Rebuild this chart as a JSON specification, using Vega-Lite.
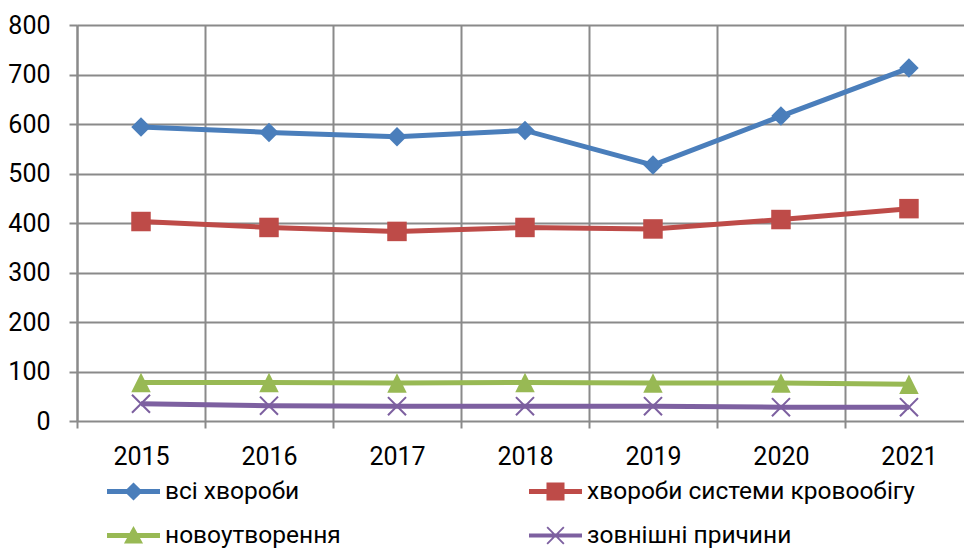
{
  "$schema": "https://vega.github.io/schema/vega-lite/v6.json",
  "autosize": {"type": "none"},
  "padding": {"left": 77, "top": 25, "right": 0, "bottom": 127},
  "width": 887,
  "height": 396,
  "background": "white",
  "config": {
    "font": "Roboto",
    "view": {"stroke": null},
    "axis": {"labelFont": "Roboto", "labelColor": "#000000", "labelFontSize": 25, "gridColor": "#8a8a8a", "gridWidth": 2, "tickColor": "#8a8a8a", "tickWidth": 2, "domainColor": "#8a8a8a", "domainWidth": 2}
  },
  "data": {
    "values": [
      {"year": 2015, "series": "всі хвороби", "value": 594},
      {"year": 2016, "series": "всі хвороби", "value": 583},
      {"year": 2017, "series": "всі хвороби", "value": 574},
      {"year": 2018, "series": "всі хвороби", "value": 587},
      {"year": 2019, "series": "всі хвороби", "value": 517},
      {"year": 2020, "series": "всі хвороби", "value": 616},
      {"year": 2021, "series": "всі хвороби", "value": 713},
      {"year": 2015, "series": "хвороби системи кровообігу", "value": 403},
      {"year": 2016, "series": "хвороби системи кровообігу", "value": 391},
      {"year": 2017, "series": "хвороби системи кровообігу", "value": 383},
      {"year": 2018, "series": "хвороби системи кровообігу", "value": 391},
      {"year": 2019, "series": "хвороби системи кровообігу", "value": 388},
      {"year": 2020, "series": "хвороби системи кровообігу", "value": 407},
      {"year": 2021, "series": "хвороби системи кровообігу", "value": 429},
      {"year": 2015, "series": "новоутворення", "value": 78},
      {"year": 2016, "series": "новоутворення", "value": 78},
      {"year": 2017, "series": "новоутворення", "value": 77},
      {"year": 2018, "series": "новоутворення", "value": 78},
      {"year": 2019, "series": "новоутворення", "value": 77},
      {"year": 2020, "series": "новоутворення", "value": 77},
      {"year": 2021, "series": "новоутворення", "value": 74},
      {"year": 2015, "series": "зовнішні причини", "value": 35},
      {"year": 2016, "series": "зовнішні причини", "value": 31},
      {"year": 2017, "series": "зовнішні причини", "value": 30},
      {"year": 2018, "series": "зовнішні причини", "value": 30},
      {"year": 2019, "series": "зовнішні причини", "value": 30},
      {"year": 2020, "series": "зовнішні причини", "value": 28},
      {"year": 2021, "series": "зовнішні причини", "value": 28}
    ]
  },
  "layer": [
    {
      "mark": {"type": "rule", "color": "#8a8a8a", "strokeWidth": 2},
      "encoding": {
        "x": {"field": "year", "type": "quantitative",
          "scale": {"domain": [2014.5, 2021.43], "nice": false, "zero": false},
          "axis": {"orient": "bottom", "values": [2014.5, 2015.5, 2016.5, 2017.5, 2018.5, 2019.5, 2020.5], "labels": false, "ticks": true, "tickSize": 7, "grid": true, "domain": false, "title": null}},
        "y": {"value": 0},
        "opacity": {"value": 0}
      }
    },
    {
      "mark": {"type": "line", "strokeWidth": 5},
      "encoding": {
        "x": {"field": "year", "type": "quantitative",
          "axis": {"orient": "bottom", "values": [2015, 2016, 2017, 2018, 2019, 2020, 2021], "format": "d", "title": null, "grid": false, "ticks": false, "domain": false, "labelPadding": 23, "labelFlush": false}},
        "y": {"field": "value", "type": "quantitative",
          "scale": {"domain": [0, 800], "nice": false},
          "axis": {"values": [0, 100, 200, 300, 400, 500, 600, 700, 800], "title": null, "tickSize": 8, "labelPadding": 19}},
        "stroke": {"field": "series", "type": "nominal", "legend": null,
          "scale": {"domain": ["всі хвороби", "хвороби системи кровообігу", "новоутворення", "зовнішні причини"], "range": ["#4a7ebb", "#be4b48", "#98b954", "#7d60a0"]}}
      }
    },
    {
      "mark": {"type": "point", "filled": true, "opacity": 1, "size": 380},
      "encoding": {
        "x": {"field": "year", "type": "quantitative", "axis": null},
        "y": {"field": "value", "type": "quantitative"},
        "fill": {"field": "series", "type": "nominal", "legend": null,
          "scale": {"domain": ["всі хвороби", "хвороби системи кровообігу", "новоутворення", "зовнішні причини"], "range": ["#4a7ebb", "#be4b48", "#98b954", "#7d60a0"]}},
        "shape": {"field": "series", "type": "nominal", "legend": null,
          "scale": {"domain": ["всі хвороби", "хвороби системи кровообігу", "новоутворення", "зовнішні причини"],
            "range": ["M0,-1L1,0L0,1L-1,0Z", "M-1,-1H1V1H-1Z", "M0,-1L1,1H-1Z", "M-1,-0.85L-0.85,-1L1,0.85L0.85,1Z M1,-0.85L-0.85,1L-1,0.85L0.85,-1Z"]}}
      }
    },
    {
      "mark": {"type": "point", "filled": true, "opacity": 0, "size": 10},
      "encoding": {
        "x": {"field": "year", "type": "quantitative", "axis": null},
        "y": {"field": "value", "type": "quantitative"},
        "color": {"field": "series", "type": "nominal",
          "scale": {"domain": ["всі хвороби", "хвороби системи кровообігу", "новоутворення", "зовнішні причини"], "range": ["#4a7ebb", "#be4b48", "#98b954", "#7d60a0"]},
          "legend": {"title": null, "orient": "none", "legendX": 30, "legendY": 440, "columns": 2, "direction": "horizontal", "labelFont": "Roboto", "labelFontSize": 24.5, "labelColor": "#000000", "symbolSize": 2809, "symbolStrokeWidth": 0, "symbolOpacity": 1, "labelOffset": 5, "columnPadding": 188, "rowPadding": 6, "padding": 0, "labelLimit": 600}},
        "shape": {"field": "series", "type": "nominal",
          "scale": {"domain": ["всі хвороби", "хвороби системи кровообігу", "новоутворення", "зовнішні причини"],
            "range": [
              "M-1,-0.09L-0.25,-0.09L0,-0.34L0.25,-0.09L1,-0.09L1,0.09L0.25,0.09L0,0.34L-0.25,0.09L-1,0.09Z",
              "M-1,-0.09L-0.34,-0.09L-0.34,-0.34L0.34,-0.34L0.34,-0.09L1,-0.09L1,0.09L0.34,0.09L0.34,0.34L-0.34,0.34L-0.34,0.09L-1,0.09Z",
              "M-1,-0.09L-0.147,-0.09L0,-0.36L0.147,-0.09L1,-0.09L1,0.09L0.245,0.09L0.36,0.3L-0.36,0.3L-0.245,0.09L-1,0.09Z",
              "M-1,-0.08L1,-0.08L1,0.08L-1,0.08Z M-0.34,-0.29L-0.29,-0.34L0.34,0.29L0.29,0.34Z M0.34,-0.29L-0.29,0.34L-0.34,0.29L0.29,-0.34Z"
            ]},
          "legend": {"title": null, "orient": "none", "legendX": 30, "legendY": 440, "columns": 2, "direction": "horizontal", "labelFont": "Roboto", "labelFontSize": 24.5, "labelColor": "#000000", "symbolSize": 2809, "symbolStrokeWidth": 0, "symbolOpacity": 1, "labelOffset": 5, "columnPadding": 188, "rowPadding": 6, "padding": 0, "labelLimit": 600}
        }
      }
    }
  ],
  "resolve": {"scale": {"shape": "independent", "color": "independent"}, "axis": {"x": "independent"}}
}
